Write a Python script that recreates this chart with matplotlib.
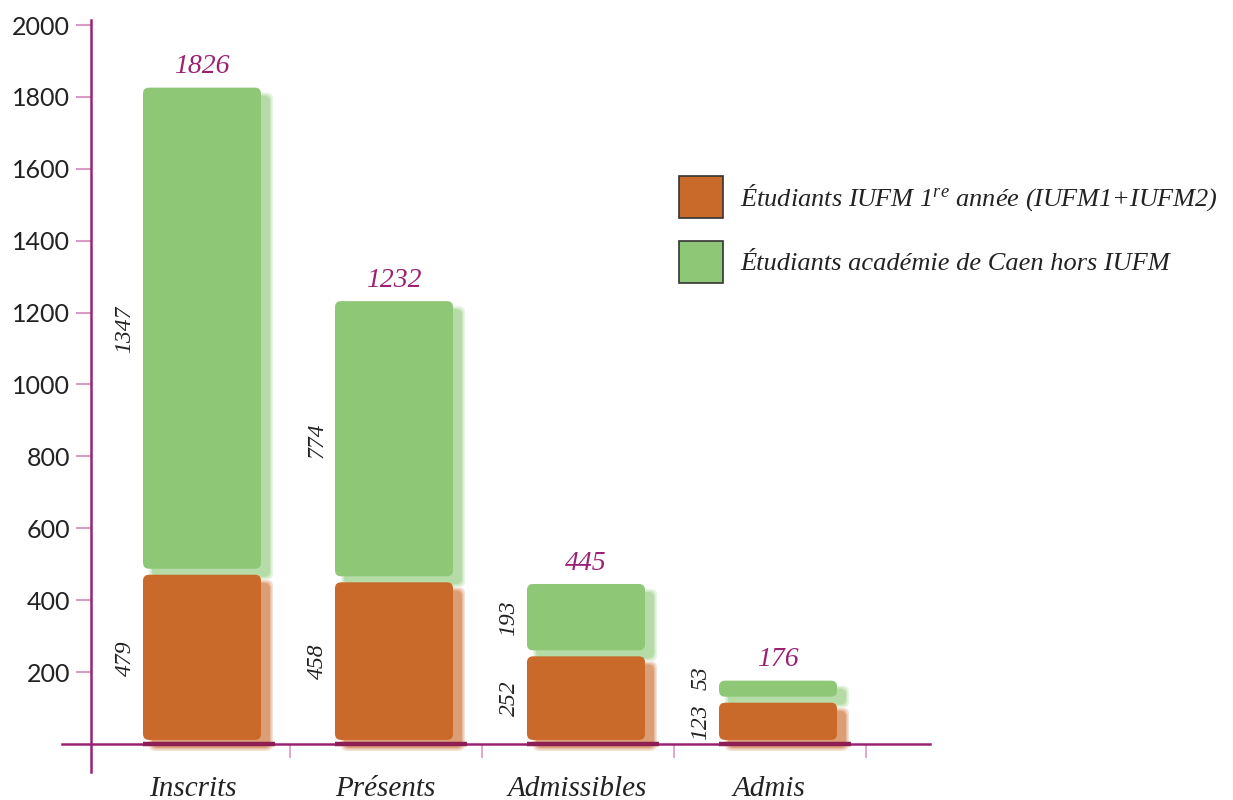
import numpy as np
import matplotlib
matplotlib.use("Agg")
import matplotlib.pyplot as plt
from matplotlib.patches import FancyBboxPatch, Patch

# ---------------- data ----------------
categories = ["Inscrits", "Présents", "Admissibles", "Admis"]
iufm = [479, 458, 252, 123]
hors_iufm = [1347, 774, 193, 53]
totals = [1826, 1232, 445, 176]
yticks = [200, 400, 600, 800, 1000, 1200, 1400, 1600, 1800, 2000]
legend_labels = ["Étudiants IUFM 1$^{re}$ année (IUFM1+IUFM2)",
                 "Étudiants académie de Caen hors IUFM"]

# ---------------- style ----------------
orange = "#C96A2A"
green = "#8EC877"
purple = "#9B2272"
dark_purple = "#8E1F55"
pink = "#D99AC6"
serif = "Liberation Serif"

plt.rcParams["mathtext.fontset"] = "custom"
plt.rcParams["mathtext.rm"] = "Liberation Serif:italic"
plt.rcParams["mathtext.it"] = "Liberation Serif:italic"

W, H = 1233, 800
fig = plt.figure(figsize=(W / 100, H / 100), dpi=100)
ax = fig.add_axes([62 / W, 28 / H, 868 / W, 752 / H])

# pixel scales
px_x = 192.0          # pixels per category
px_y = 0.3594         # pixels per unit
ax.set_xlim((62 - 202) / px_x, (930 - 202) / px_x)
ax.set_ylim((743.9 - 772) / px_y, (743.9 - 20) / px_y)
ux = 1 / px_x         # x units per pixel
uy = 1 / px_y         # y units per pixel
aspect = uy / ux

x = np.arange(len(categories))
bw = 118 / px_x

bars_o = ax.bar(x, iufm, width=bw, color=orange, alpha=0)
bars_g = ax.bar(x, hors_iufm, bottom=iufm, width=bw, color=green, alpha=0)


def rounded(x0, y0, w, h, color, z, alpha=1.0):
    p = FancyBboxPatch((x0, y0), w, h,
                       boxstyle="round,pad=0,rounding_size=%f" % (6 * ux),
                       mutation_aspect=aspect, fc=color, ec="none",
                       alpha=alpha, zorder=z)
    ax.add_patch(p)


def draw_bar(rect, color, bot_gap, top_gap):
    x0 = rect.get_x()
    w = rect.get_width()
    y0 = rect.get_y() + bot_gap * uy
    h = rect.get_height() - (bot_gap + top_gap) * uy
    # soft shadow
    for grow, a in [(3, 0.2), (1.5, 0.28), (0, 0.38)]:
        rounded(x0 + 9 * ux - grow * ux, y0 - 8 * uy - grow * uy,
                w + 2 * grow * ux, h + 2 * grow * uy, color, 1, a)
    rounded(x0, y0, w, h, color, 3)


for r in bars_o:
    draw_bar(r, orange, 4, 3)
for r in bars_g:
    draw_bar(r, green, 3, 0)

# dark line under each bar
for r in bars_o:
    ax.plot([r.get_x(), r.get_x() + r.get_width() + 14 * ux], [0, 0],
            color=dark_purple, lw=3.2, solid_capstyle="butt", zorder=4)

# totals on top
for xi, t in zip(x, totals):
    ax.annotate(str(t), (xi, t), xytext=(0, 6), textcoords="offset points",
                ha="center", va="bottom", fontsize=20, color=purple,
                family=serif, style="italic", zorder=5)

# segment values, rotated, left of bars
for xi, a, b in zip(x, iufm, hors_iufm):
    lx = xi - bw / 2 - 18 * ux
    ax.text(lx, a / 2, str(a), rotation=90, ha="center", va="center",
            fontsize=17, family=serif, style="italic", color="#222222")
    # small top segments: keep the label clear of the one below
    yb = max(a + b / 2, a + 22 * uy)
    ax.text(lx, yb, str(b), rotation=90, ha="center", va="center",
            fontsize=17, family=serif, style="italic", color="#222222")

# category labels
for xi, c in zip(x, categories):
    ax.text(xi - 0.045, (743.9 - 789) / px_y, c, ha="center", va="center",
            fontsize=21, family=serif, style="italic", color="#222222",
            clip_on=False)

# axes
for s in ["top", "right"]:
    ax.spines[s].set_visible(False)
ax.spines["left"].set_position(("data", (91 - 202) / px_x))
ax.spines["bottom"].set_position(("data", 0))
for s in ["left", "bottom"]:
    ax.spines[s].set_color(purple)
    ax.spines[s].set_linewidth(1.8)
    ax.spines[s].set_zorder(2)

ax.set_yticks(yticks)
ax.set_yticklabels([str(v) for v in yticks], fontsize=18, family="Lato",
                   color="#222222")
ax.tick_params(axis="y", direction="out", length=11, width=1.5, color=pink,
               pad=4)
ax.set_xticks(x + 0.46)
ax.set_xticklabels([])
ax.tick_params(axis="x", direction="out", length=10, width=1.2, color=pink)

# legend
handles = [Patch(fc=orange, ec="#333333", lw=1.2),
           Patch(fc=green, ec="#333333", lw=1.2)]
leg = fig.legend(handles, legend_labels, loc="upper left",
                 bbox_to_anchor=(679 / W, 1 - 176 / H), frameon=False,
                 borderpad=0, borderaxespad=0, handlelength=1.67,
                 handleheight=2.1, handletextpad=0.64, labelspacing=0.85,
                 prop={"family": serif, "style": "italic", "size": 19})
for t in leg.get_texts():
    t.set_color("#222222")

fig.savefig("out.png", dpi=100)
